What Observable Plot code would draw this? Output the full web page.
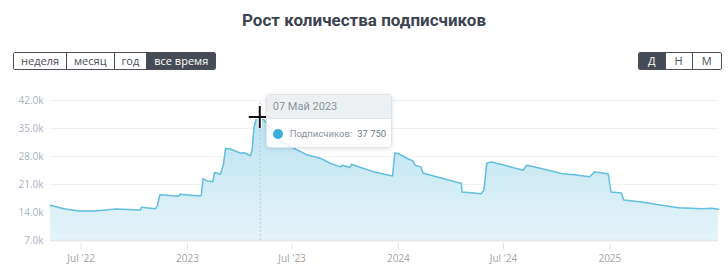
<!DOCTYPE html>
<html>
<head>
<meta charset="utf-8">
<script src="https://cdn.jsdelivr.net/npm/d3@7"></script>
<script src="https://cdn.jsdelivr.net/npm/@observablehq/plot@0.6"></script>
<style>
  html, body { margin: 0; padding: 0; background: #fff; }
  #wrap { position: relative; width: 728px; height: 276px; font-family: "Open Sans", "Noto Sans", sans-serif; overflow: hidden; }
  #title { position: absolute; left: 0; top: 10px; width: 728px; text-align: center; font-family: Roboto, "Open Sans", sans-serif; font-size: 17px; font-weight: 700; color: #3c4350; }
  .grp { position: absolute; top: 52px; display: flex; height: 18px; border: 1px solid #4a4f58; border-radius: 2px; overflow: hidden; box-sizing: border-box; }
  .grp div { font-size: 11px; line-height: 16px; color: #4a4f58; padding: 0 7px; border-left: 1px solid #4a4f58; background: #fff; }
  .grp div:first-child { border-left: none; }
  .grp div.on { background: #464c55; color: #fff; }
  #chart { position: absolute; left: 0; top: 85px; }
  #tip { position: absolute; width: 126px; height: 54px; box-sizing: border-box; border: 1px solid #e1e4e7; border-radius: 4px; background: rgba(255,255,255,0.86); box-shadow: 0 1px 4px rgba(0,0,0,0.12); overflow: hidden; font-family: Roboto, "Open Sans", sans-serif; white-space: nowrap; }
  #tip .hd { height: 23px; background: rgba(236,239,241,0.95); border-bottom: 1px solid #e1e4e7; font-size: 11px; color: #8a939c; line-height: 23px; padding-left: 6px; }
  #tip .bd { position: relative; height: 30px; font-size: 9.5px; color: #8a939c; display: flex; align-items: center; padding-left: 6px; }
  #tip .dot { width: 10px; height: 10px; border-radius: 50%; background: #3aaed8; margin-right: 7px; flex: none; }
  #tip .lbl { margin-right: 5px; }
  #tip .val { color: #6f7a84; }
</style>
</head>
<body>
<div id="wrap">
  <div id="title">Рост количества подписчиков</div>
  <div class="grp" id="g1" style="left:13px"></div>
  <div class="grp" id="g2" style="left:638px"></div>
  <div id="chart"></div>
  <div id="tip"><div class="hd" id="tipHead"></div><div class="bd"><div class="dot"></div><div class="lbl" id="tipLbl"></div><div class="val" id="tipVal"></div></div></div>
</div>
<script>
const periodButtons = ["неделя", "месяц", "год", "все время"];
const activePeriod = "все время";
const stepButtons = ["Д", "Н", "М"];
const activeStep = "Д";

const dates = [
  "2022-05-09","2022-06-01","2022-06-27","2022-07-26","2022-08-30","2022-10-12","2022-10-13","2022-11-07",
  "2022-11-10","2022-11-14","2022-11-15","2022-12-17","2022-12-19","2023-01-22","2023-01-25","2023-01-28",
  "2023-02-04","2023-02-14","2023-02-17","2023-02-27","2023-03-04","2023-03-08","2023-03-15","2023-04-03",
  "2023-04-09","2023-04-20","2023-04-23","2023-04-26","2023-05-01","2023-05-07","2023-05-14","2023-06-01",
  "2023-06-15","2023-07-01","2023-07-15","2023-07-28","2023-08-20","2023-09-06","2023-09-23","2023-09-26",
  "2023-10-09","2023-10-12","2023-10-28","2023-11-20","2023-12-16","2023-12-22","2023-12-26","2023-12-31",
  "2024-01-17","2024-01-26","2024-01-30","2024-02-09","2024-02-13","2024-03-15","2024-04-19","2024-04-20",
  "2024-05-06","2024-05-23","2024-05-28","2024-06-02","2024-06-10","2024-07-03","2024-08-04","2024-08-10",
  "2024-08-24","2024-09-22","2024-10-09","2024-11-07","2024-11-27","2024-12-06","2024-12-29","2025-01-03",
  "2025-01-21","2025-01-25","2025-02-25","2025-03-26","2025-04-30","2025-06-09","2025-06-26","2025-07-08"
];
const subscribers = [
  15800,14950,14400,14350,14850,14650,15300,14950,
  15750,18300,18450,18050,18550,18100,18300,22450,
  21900,21700,24000,23550,25800,30000,29950,28850,
  28950,28200,29600,35000,38100,37750,37100,33300,
  31600,30300,29300,28350,27500,26250,25400,25800,
  25250,26050,25250,24150,23300,23150,28900,28750,
  27500,26900,25800,25400,23800,22650,21250,19100,
  18950,18700,19550,26300,26650,25800,24550,25800,
  25400,24400,23750,23300,22950,24150,23700,19100,
  18900,17150,16600,15950,15200,14950,15050,14800
];

const yTicks = [7000, 14000, 21000, 28000, 35000, 42000];
const xTickDates = ["2022-07-01","2023-01-01","2023-07-01","2024-01-01","2024-07-01","2025-01-01"];
const xTickLabels = ["Jul '22","2023","Jul '23","2024","Jul '24","2025"];

const tipDate = "2023-05-07";
const tipDateLabel = "07 Май 2023";
const tipSeries = "Подписчиков:";
const tipValue = 37750;

// buttons
for (const [id, list, act] of [["g1", periodButtons, activePeriod], ["g2", stepButtons, activeStep]]) {
  const g = document.getElementById(id);
  for (const b of list) {
    const d = document.createElement("div");
    d.textContent = b;
    if (b === act) d.className = "on";
    if (id === "g2") { d.style.padding = "0 9px"; }
    g.appendChild(d);
  }
}

const data = dates.map((d, i) => ({date: new Date(d), value: subscribers[i]}));
const xTicks = xTickDates.map(d => new Date(d));
const tipD = new Date(tipDate);

const chart = Plot.plot({
  width: 728,
  height: 185,
  marginLeft: 50,
  marginRight: 10,
  marginTop: 15,
  marginBottom: 30,
  style: {fontFamily: "'Open Sans', 'Noto Sans', sans-serif", background: "transparent"},
  x: {type: "utc", domain: [data[0].date, data[data.length - 1].date]},
  y: {domain: [7000, 42000]},
  marks: [
    Plot.ruleY(yTicks.slice(1), {stroke: "#eef0f2", strokeWidth: 1}),
    Plot.areaY(data, {x: "date", y1: () => 7000, y2: "value", fill: "url(#areaGrad)"}),
    Plot.ruleY([7000], {stroke: "#e6e8ea", strokeWidth: 2}),
    Plot.ruleX([tipD], {y1: 7000, y2: 42000, stroke: "#c3c8cd", strokeDasharray: "2,2", strokeWidth: 1}),
    Plot.lineY(data, {x: "date", y: "value", stroke: "#62bfdf", strokeWidth: 1.5}),
    Plot.axisY({ticks: yTicks, tickSize: 0, tickPadding: 7, tickFormat: d => (d / 1000).toFixed(1) + "k", fill: "#aab3c2", fontSize: 10, label: null}),
    Plot.axisX({ticks: xTicks, tickFormat: (d, i) => xTickLabels[i], tickSize: 6, tickPadding: 5, dy: 3, stroke: "#e2e4e6", fill: "#a0a4a8", fontSize: 10, label: null})
  ]
});

const svg = d3.select(chart);
const defs = svg.insert("defs", ":first-child");
const grad = defs.append("linearGradient").attr("id", "areaGrad").attr("x1", 0).attr("y1", 0).attr("x2", 0).attr("y2", 1);
grad.append("stop").attr("offset", "0%").attr("stop-color", "#b9e2f0");
grad.append("stop").attr("offset", "100%").attr("stop-color", "#e5f4f9");

const sx = chart.scale("x"), sy = chart.scale("y");
const px = sx.apply(tipD), py = sy.apply(tipValue);
// cursor cross
const cur = svg.append("g");
for (const [x1, y1, x2, y2] of [[px - 11, py, px + 11, py], [px, py - 11, px, py + 11]]) {
  cur.append("line").attr("x1", x1).attr("y1", y1).attr("x2", x2).attr("y2", y2).attr("stroke", "#fff").attr("stroke-width", 4);
}
for (const [x1, y1, x2, y2] of [[px - 11, py, px + 11, py], [px, py - 11, px, py + 11]]) {
  cur.append("line").attr("x1", x1).attr("y1", y1).attr("x2", x2).attr("y2", y2).attr("stroke", "#111").attr("stroke-width", 2);
}

document.getElementById("chart").appendChild(chart);

const tip = document.getElementById("tip");
tip.style.left = (px + 6) + "px";
tip.style.top = (85 + sy.apply(42000) - 6.5) + "px";
document.getElementById("tipHead").textContent = tipDateLabel;
document.getElementById("tipLbl").textContent = tipSeries;
document.getElementById("tipVal").textContent = d3.format(",")(tipValue).replace(/,/g, " ");
</script>
</body>
</html>
